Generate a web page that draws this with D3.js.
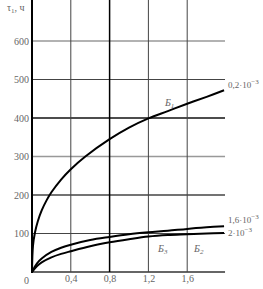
<!DOCTYPE html>
<html lang="en">
<head>
    <meta charset="UTF-8">
    <style>
        body { margin: 0; background: #fff; }
        #chart { width: 263px; height: 289px; }
        text { font-family: 'Liberation Serif', serif; fill: #666; }
    </style>
    <title>Chart</title>
    <script src="https://unpkg.com/d3@7/dist/d3.min.js"></script>
</head>
<body>
    <div id="chart"></div>
    <script>
        // x values (thickness) and tau values
        const xB1 = [0, 0.01, 0.03, 0.06, 0.1, 0.15, 0.2, 0.3, 0.4, 0.55, 0.8, 1.0, 1.2, 1.4, 1.6, 1.8, 1.98];
        const yB1 = [0, 68, 102, 132, 160, 186, 207, 240, 267, 300, 345, 375, 399, 418, 437, 455, 472];
        const xB2 = [0, 0.05, 0.1, 0.2, 0.3, 0.4, 0.6, 0.8, 1.0, 1.2, 1.4, 1.6, 1.8, 1.98];
        const yB2 = [0, 22, 35, 52, 63, 71, 83, 91, 98, 103, 107, 112, 116, 119];
        const yB3 = [0, 15, 25, 38, 47, 54, 67, 77, 85, 92, 96, 98, 100, 101];
        const seriesNames = ['0,2', '1,6', '2'];
        const curveNames = ['1', '2', '3'];
        const xTicks = [0.4, 0.8, 1.2, 1.6];
        const xTickLabels = ['0,4', '0,8', '1,2', '1,6'];
        const yTicks = [100, 200, 300, 400, 500, 600];

        const width = 263, height = 289;
        const svg = d3.select('#chart').append('svg')
            .attr('width', width).attr('height', height);

        const x = d3.scaleLinear().domain([0, 2]).range([32, 226]);
        const y = d3.scaleLinear().domain([0, 700]).range([272, 2.5]);

        // line styles per grid value (scan shows uneven weights)
        const hStyle = { 0: ['#666', 2], 100: ['#444', 1], 200: ['#444', 1.5], 300: ['#999', 1.5],
                         400: ['#111', 1.5], 500: ['#444', 1], 600: ['#999', 1.5] };
        const vStyle = { 0.4: ['#444', 1], 0.8: ['#000', 1.5], 1.2: ['#444', 1], 1.6: ['#444', 1] };

        // horizontal grid + y labels
        const yAxis = d3.axisLeft(y).tickValues(yTicks).tickSize(0).tickPadding(3)
            .tickFormat(d3.format('d'));
        const gy = svg.append('g').attr('transform', `translate(${x(0)},0)`).call(yAxis);
        gy.select('.domain').remove();
        gy.selectAll('text').style('font-size', '10px').attr('fill', '#666')
            .style('font-family', "'Liberation Serif', serif");

        [0].concat(yTicks).forEach(v => {
            svg.append('line')
                .attr('x1', x(0)).attr('x2', x(1.99))
                .attr('y1', y(v)).attr('y2', y(v))
                .attr('stroke', hStyle[v][0]).attr('stroke-width', hStyle[v][1]);
        });

        // vertical grid + x labels
        const xAxis = d3.axisBottom(x).tickValues(xTicks).tickSize(0).tickPadding(3)
            .tickFormat((d, i) => xTickLabels[i]);
        const gx = svg.append('g').attr('transform', `translate(0,${y(0)})`).call(xAxis);
        gx.select('.domain').remove();
        gx.selectAll('text').style('font-size', '10px').attr('fill', '#666')
            .style('font-family', "'Liberation Serif', serif");

        xTicks.forEach(v => {
            svg.append('line')
                .attr('x1', x(v)).attr('x2', x(v))
                .attr('y1', 0).attr('y2', y(0))
                .attr('stroke', vStyle[v][0]).attr('stroke-width', vStyle[v][1]);
        });

        // y axis
        svg.append('line')
            .attr('x1', x(0)).attr('x2', x(0))
            .attr('y1', 0).attr('y2', y(0) + 1)
            .attr('stroke', '#000').attr('stroke-width', 2);

        svg.append('text').attr('x', x(0) - 3).attr('y', y(0) + 12)
            .attr('text-anchor', 'end').style('font-size', '10px').text('0');

        // axis title
        const title = svg.append('text').attr('x', 7).attr('y', 11).style('font-size', '10px');
        title.append('tspan').text('τ');
        title.append('tspan').attr('dy', 2).style('font-size', '7px').text('1');
        title.append('tspan').attr('dy', -2).text(', ч');

        // curves
        const line = d3.line().x(d => x(d[0])).y(d => y(d[1])).curve(d3.curveCatmullRom.alpha(0.5));
        const curves = [
            d3.zip(xB1, yB1),
            d3.zip(xB2, yB2),
            d3.zip(xB2, yB3)
        ];
        curves.forEach(c => {
            svg.append('path').datum(c)
                .attr('d', line)
                .attr('fill', 'none')
                .attr('stroke', '#000')
                .attr('stroke-width', 2);
        });

        // end labels
        const endY = [yB1[yB1.length - 1], yB2[yB2.length - 1], yB3[yB3.length - 1]];
        const endDy = [-2, -3, 3];
        seriesNames.forEach((n, i) => {
            const t = svg.append('text')
                .attr('x', x(1.98) + 4)
                .attr('y', y(endY[i]) + endDy[i])
                .style('font-size', '9px');
            t.append('tspan').text(n + '·10');
            t.append('tspan').attr('dy', -4).style('font-size', '7px').text('−3');
        });

        // curve names (Б1, Б2, Б3)
        const namePos = [[1.37, 430], [1.67, 52], [1.3, 52]];
        curveNames.forEach((n, i) => {
            const t = svg.append('text')
                .attr('x', x(namePos[i][0]))
                .attr('y', y(namePos[i][1]))
                .style('font-size', '10px').style('font-style', 'italic');
            t.append('tspan').text('Б');
            t.append('tspan').attr('dy', 2).style('font-size', '7px').text(n);
        });
    </script>
</body>
</html>
